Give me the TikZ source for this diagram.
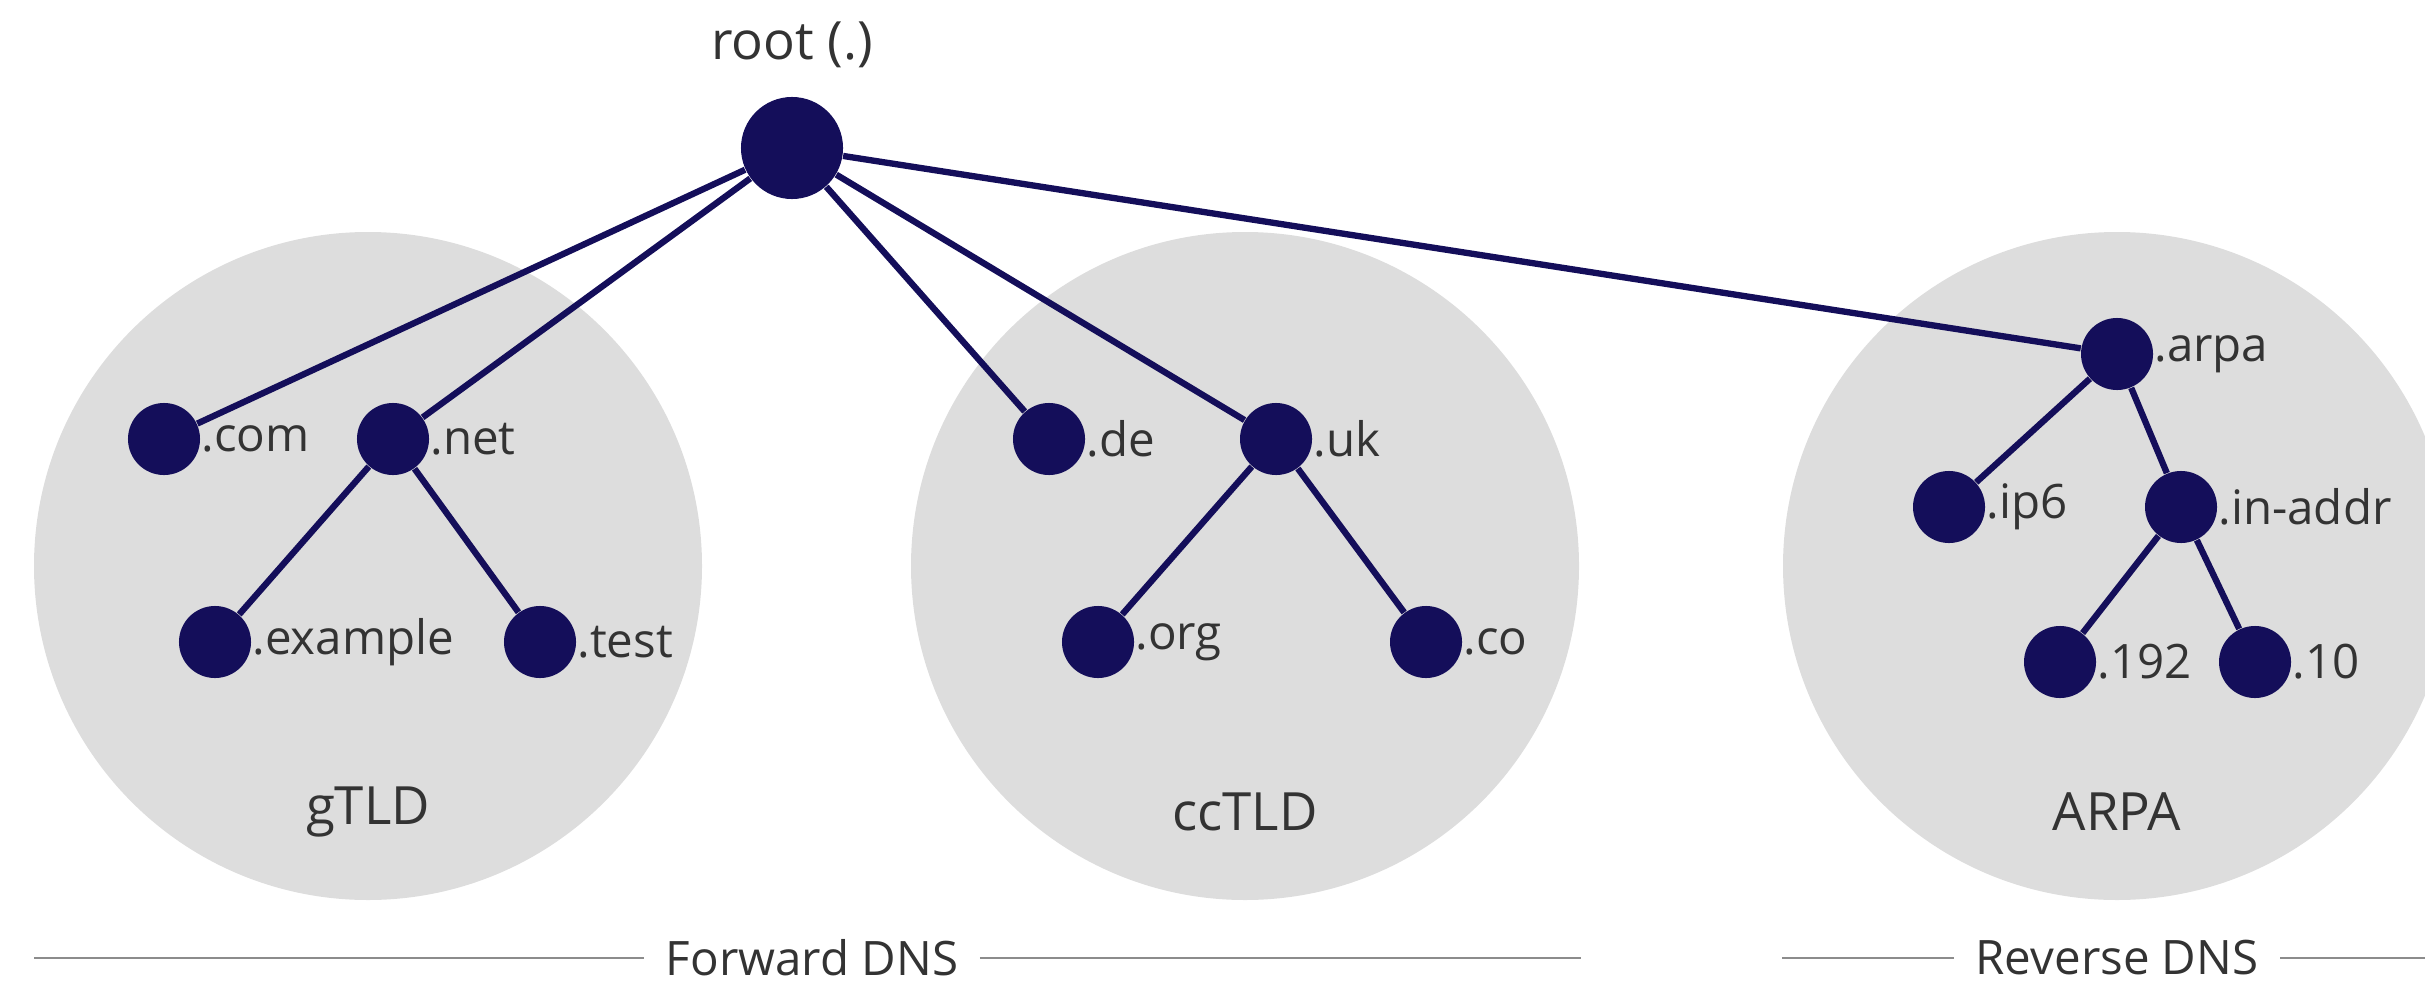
\documentclass[tikz,border=0pt]{standalone}
\usepackage{fontspec}
\setmainfont{Open Sans}
\definecolor{navy}{RGB}{20,14,90}
\definecolor{zone}{RGB}{221,221,221}
\definecolor{txt}{RGB}{51,51,51}
\definecolor{rule}{RGB}{140,140,140}
\begin{document}
\begin{tikzpicture}[x=0.01cm,y=-0.01cm,
  dot/.style={circle,fill=navy,minimum size=0.72cm,inner sep=0pt},
  bigdot/.style={circle,fill=navy,minimum size=1.02cm,inner sep=0pt},
  lbl/.style={anchor=west,inner sep=0pt,text=txt,font=\fontsize{13.5}{16}\selectfont},
  zonelbl/.style={text=txt,font=\fontsize{15}{18}\selectfont},
  link/.style={draw=navy,line width=1.8pt},
  sep/.style={draw=rule,line width=0.6pt},
  seplbl/.style={text=txt,font=\fontsize{13.5}{16}\selectfont,inner sep=6pt}]
\useasboundingbox (0,0) rectangle (2425,982);
\clip (0,0) rectangle (2425,982);
% zones
\fill[zone] (368,566) circle (334);
\fill[zone] (1245,566) circle (334);
\fill[zone] (2117,566) circle (334);
\node[zonelbl] (g) at (368,812) {gTLD};
\node[zonelbl] (cc) at (1245,812) {ccTLD};
\node[zonelbl] (ar) at (2117,812) {ARPA};
% nodes
\node[bigdot] (root) at (792,148) {};
\node[text=txt,font=\fontsize{15}{18}\selectfont] (rootl) at (792,45) {root (.)};
\node[dot] (com) at (164,439) {};
\node[dot] (net) at (393,439) {};
\node[dot] (ex) at (215,642) {};
\node[dot] (test) at (540,642) {};
\node[dot] (de) at (1049,439) {};
\node[dot] (uk) at (1276,439) {};
\node[dot] (org) at (1098,642) {};
\node[dot] (co) at (1426,642) {};
\node[dot] (arpa) at (2117,354) {};
\node[dot] (ip6) at (1949,507) {};
\node[dot] (inaddr) at (2181,507) {};
\node[dot] (n192) at (2060,662) {};
\node[dot] (n10) at (2255,662) {};
% links
\path[link] (root) -- (com) (root) -- (net) (root) -- (de) (root) -- (uk) (root) -- (arpa)
  (net) -- (ex) (net) -- (test) (uk) -- (org) (uk) -- (co)
  (arpa) -- (ip6) (arpa) -- (inaddr) (inaddr) -- (n192) (inaddr) -- (n10);
% labels
\node[lbl] at (com.east) {.com};
\node[lbl] at (net.east) {.net};
\node[lbl] at (ex.east) {.example};
\node[lbl] at (test.east) {.test};
\node[lbl] at (de.east) {.de};
\node[lbl] at (uk.east) {.uk};
\node[lbl] at (org.east) {.org};
\node[lbl] at (co.east) {.co};
\node[lbl] at (arpa.east) {.arpa};
\node[lbl] at (ip6.east) {.ip6};
\node[lbl] at (inaddr.east) {.in-addr};
\node[lbl] at (n192.east) {.192};
\node[lbl] at (n10.east) {.10};
% separators
\node[seplbl] (fwd) at (812,958) {Forward DNS};
\node[seplbl] (rev) at (2117,958) {Reverse DNS};
\coordinate (f1) at (34,958);
\coordinate (f2) at (1581,958);
\coordinate (r1) at (1782,958);
\coordinate (r2) at (2425,958);
\path[sep] (f1) -- (fwd.west) (fwd.east) -- (f2) (r1) -- (rev.west) (rev.east) -- (r2);
\end{tikzpicture}
\end{document}
